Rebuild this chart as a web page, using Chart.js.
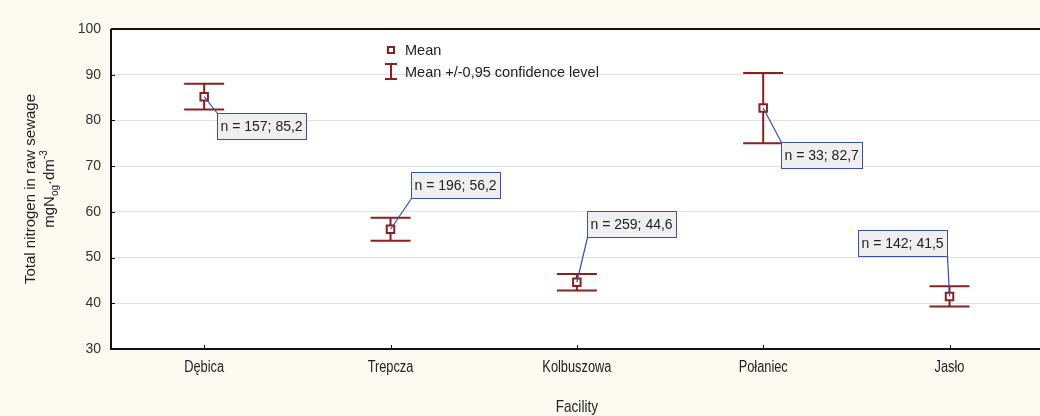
<!DOCTYPE html>
<html>
<head>
<meta charset="utf-8">
<script src="https://cdn.jsdelivr.net/npm/chart.js@4.4.0/dist/chart.umd.min.js"></script>
<style>
  html, body { margin: 0; padding: 0; background: #fdfaf2; overflow: hidden; }
  #wrap { position: relative; width: 1050px; height: 416px; }
</style>
</head>
<body>
<div id="wrap"><canvas id="myChart" width="1050" height="416"></canvas></div>
<script>
// data
const facilities = ['Dębica', 'Trepcza', 'Kolbuszowa', 'Połaniec', 'Jasło'];
const nValues = [157, 196, 259, 33, 142];
const means = [85.2, 56.2, 44.6, 82.7, 41.5];
const ciLow = [82.4, 53.7, 42.8, 75.0, 39.3];
const ciHigh = [88.0, 58.7, 46.4, 90.4, 43.7];
const yMin = 30, yMax = 100, yStep = 10;

// where each "n = ..; .." box sits relative to its point (px) and which corner the leader goes to
const labelPlace = [
  { dx: 13, dy: 16, corner: 'tl' },
  { dx: 20, dy: -57, corner: 'bl' },
  { dx: 10, dy: -71, corner: 'bl' },
  { dx: 18, dy: 34, corner: 'tl' },
  { dx: -92, dy: -66, corner: 'br' }
];

const RED = '#8b2020';
const BLUE = '#3550ad';
const SANS = '"Liberation Sans", Arial, sans-serif';
const capHalf = 20;
const squeeze = 0.8; // the category labels are set in a condensed face

const fmt = v => v.toFixed(1).replace('.', ',');

function narrowText(ctx, txt, cx, cy, size) {
  ctx.save();
  ctx.font = size + 'px ' + SANS;
  ctx.textAlign = 'center';
  ctx.textBaseline = 'middle';
  ctx.translate(cx, cy);
  ctx.scale(squeeze, 1);
  ctx.fillText(txt, 0, 0);
  ctx.restore();
}

const extras = {
  id: 'extras',
  beforeDatasetsDraw(chart) {
    const { ctx, scales: { x, y } } = chart;
    ctx.save();
    ctx.strokeStyle = RED;
    ctx.lineWidth = 2;
    facilities.forEach((f, i) => {
      const px = x.getPixelForValue(i);
      const yl = y.getPixelForValue(ciLow[i]);
      const yh = y.getPixelForValue(ciHigh[i]);
      ctx.beginPath();
      ctx.moveTo(px, yh); ctx.lineTo(px, yl);
      ctx.moveTo(px - capHalf, yh); ctx.lineTo(px + capHalf, yh);
      ctx.moveTo(px - capHalf, yl); ctx.lineTo(px + capHalf, yl);
      ctx.stroke();
    });
    ctx.restore();
  },
  afterDatasetsDraw(chart) {
    const { ctx, chartArea: a, scales: { x, y } } = chart;
    ctx.save();

    // frame
    ctx.strokeStyle = '#111';
    ctx.lineWidth = 2;
    ctx.beginPath();
    ctx.moveTo(a.left, a.top); ctx.lineTo(chart.width, a.top);
    ctx.moveTo(a.left, a.top); ctx.lineTo(a.left, a.bottom);
    ctx.moveTo(a.left - 1, a.bottom); ctx.lineTo(chart.width, a.bottom);
    ctx.stroke();

    // inward ticks
    ctx.lineWidth = 1;
    ctx.beginPath();
    for (let v = yMin + yStep; v < yMax; v += yStep) {
      const py = Math.round(y.getPixelForValue(v)) + 0.5;
      ctx.moveTo(a.left, py); ctx.lineTo(a.left + 4, py);
    }
    facilities.forEach((f, i) => {
      const px = Math.round(x.getPixelForValue(i)) + 0.5;
      ctx.moveTo(px, a.bottom); ctx.lineTo(px, a.bottom - 4);
    });
    ctx.stroke();

    // category labels + axis title (condensed)
    ctx.fillStyle = '#222';
    facilities.forEach((f, i) => {
      narrowText(ctx, f, x.getPixelForValue(i), a.bottom + 19, 16);
    });
    narrowText(ctx, 'Facility', (a.left + a.right) / 2, 407, 17);

    // value labels with leader lines
    ctx.font = '14px ' + SANS;
    ctx.textBaseline = 'middle';
    ctx.textAlign = 'left';
    facilities.forEach((f, i) => {
      const px = x.getPixelForValue(i);
      const py = y.getPixelForValue(means[i]);
      const txt = 'n = ' + nValues[i] + '; ' + fmt(means[i]);
      const w = Math.round(ctx.measureText(txt).width) + 7;
      const h = 26;
      const p = labelPlace[i];
      const bx = Math.round(px + p.dx) + 0.5;
      const by = Math.round(py + p.dy) + 0.5;
      let cx = bx, cy = by;
      if (p.corner === 'bl') { cy = by + h; }
      if (p.corner === 'br') { cx = bx + w; cy = by + h; }
      ctx.strokeStyle = BLUE;
      ctx.lineWidth = 1.2;
      ctx.beginPath();
      ctx.moveTo(px, py); ctx.lineTo(cx, cy);
      ctx.stroke();
      ctx.fillStyle = '#efefef';
      ctx.fillRect(bx, by, w, h);
      ctx.lineWidth = 1;
      ctx.strokeRect(bx, by, w, h);
      ctx.fillStyle = '#222';
      ctx.fillText(txt, bx + 3, by + h / 2 + 1);
    });

    // legend inside the plot
    const lx = 391, ly1 = 50, ly2 = 72;
    ctx.strokeStyle = RED;
    ctx.lineWidth = 2;
    ctx.fillStyle = '#fff';
    ctx.fillRect(lx - 3, ly1 - 3, 6, 6);
    ctx.strokeRect(lx - 3, ly1 - 3, 6, 6);
    ctx.beginPath();
    ctx.moveTo(lx, ly2 - 8); ctx.lineTo(lx, ly2 + 7);
    ctx.moveTo(lx - 6, ly2 - 8); ctx.lineTo(lx + 6, ly2 - 8);
    ctx.moveTo(lx - 6, ly2 + 7); ctx.lineTo(lx + 6, ly2 + 7);
    ctx.stroke();
    ctx.fillStyle = '#222';
    ctx.font = '14.5px ' + SANS;
    ctx.fillText('Mean', 405, ly1 + 1);
    ctx.fillText('Mean +/-0,95 confidence level', 405, ly2 + 1);

    ctx.restore();
  },
  afterDraw(chart) {
    // y axis title with sub/superscript
    const { ctx, chartArea: a } = chart;
    const cy = (a.top + a.bottom) / 2;
    ctx.save();
    ctx.fillStyle = '#222';
    ctx.textBaseline = 'middle';
    ctx.translate(31, cy);
    ctx.rotate(-Math.PI / 2);
    ctx.textAlign = 'center';
    ctx.font = '15px ' + SANS;
    ctx.fillText('Total nitrogen in raw sewage', 0, 0);

    const big = '15px ' + SANS, small = '10px ' + SANS;
    const parts = [
      { t: 'mgN', f: big, dy: 0 },
      { t: 'og', f: small, dy: 5 },
      { t: '·dm', f: big, dy: 0 },
      { t: '-3', f: small, dy: -6 }
    ];
    let total = 0;
    parts.forEach(p => { ctx.font = p.f; p.w = ctx.measureText(p.t).width; total += p.w; });
    ctx.textAlign = 'left';
    let sx = -total / 2;
    parts.forEach(p => {
      ctx.font = p.f;
      ctx.fillText(p.t, sx, 19 + p.dy);
      sx += p.w;
    });
    ctx.restore();
  }
};

const whiteArea = {
  id: 'whiteArea',
  beforeDraw(chart) {
    const { ctx, chartArea: a } = chart;
    ctx.save();
    ctx.fillStyle = '#fdfaf2';
    ctx.fillRect(0, 0, chart.width, chart.height);
    ctx.fillStyle = '#ffffff';
    ctx.fillRect(a.left, a.top, chart.width - a.left, a.bottom - a.top);
    ctx.restore();
  }
};

const config = {
  type: 'line',
  data: {
    labels: facilities,
    datasets: [{
      label: 'Mean',
      data: means,
      showLine: false,
      pointStyle: 'rect',
      pointRadius: 5.3,
      pointBorderWidth: 2,
      pointBorderColor: RED,
      pointBackgroundColor: '#ffffff'
    }]
  },
  options: {
    responsive: false,
    animation: false,
    events: [],
    layout: { padding: { left: 0, right: 5.5, top: 29, bottom: 0 } },
    plugins: { legend: { display: false }, tooltip: { enabled: false } },
    scales: {
      x: {
        type: 'category',
        offset: true,
        grid: { display: false, drawTicks: false },
        border: { display: false },
        ticks: { display: false },
        afterFit: s => { s.height = 67; }
      },
      y: {
        min: yMin,
        max: yMax,
        ticks: { stepSize: yStep, font: { family: SANS, size: 14 }, color: '#333', padding: 10 },
        grid: { color: '#e0e0e0', drawTicks: false },
        border: { display: false },
        afterFit: s => { s.width = 111; }
      }
    }
  },
  plugins: [whiteArea, extras]
};

new Chart(document.getElementById('myChart'), config);
</script>
</body>
</html>
